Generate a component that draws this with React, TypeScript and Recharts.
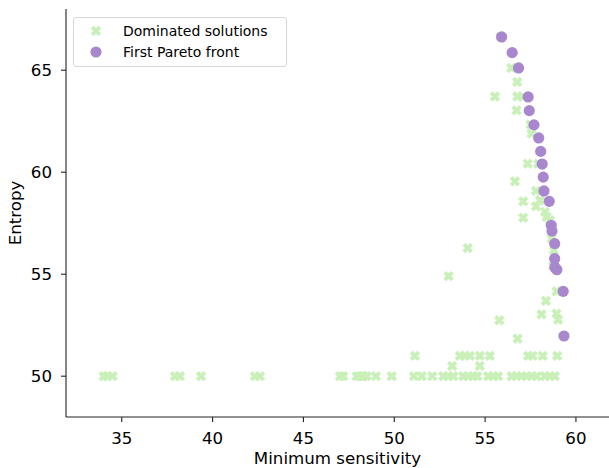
import React from 'react';
import { ScatterChart, Scatter, XAxis, YAxis } from 'recharts';

// values
const dominatedX = [
  55.85, 56.45, 56.77, 55.54, 56.77, 57.1, 56.73, 57.5, 57.56, 57.34, 57.92, 56.64, 57.8, 57.1, 58.02,
  57.8, 58.3, 58.39, 57.1, 58.57, 58.66, 58.79, 58.75, 54.04, 52.99, 58.93, 58.35, 58.11, 58.93, 59.02,
  55.78, 56.79,
  51.14, 53.61, 53.89, 54.16, 54.71, 55.26, 57.37, 57.61, 58.17, 58.97,
  53.19, 54.71,
  34.0, 34.2, 34.5, 37.93, 38.2, 39.36, 42.33, 42.61, 47.01, 47.19, 47.93, 48.1, 48.3, 48.48, 48.99,
  49.86, 51.08, 51.51, 52.09, 52.7, 52.97, 53.25, 53.8, 54.07, 54.35, 54.57, 55.17, 55.45, 55.72,
  56.46, 56.73, 57.01, 57.29, 57.56, 57.84, 58.29, 58.57, 58.84,
];
const dominatedY = [
  66.65, 65.11, 64.42, 63.71, 63.71, 63.7, 63.03, 62.33, 61.89, 60.42, 60.42, 59.55, 59.08, 58.57, 58.62,
  58.33, 58.05, 57.8, 57.77, 57.64, 56.75, 56.17, 55.4, 56.28, 54.9, 54.16, 53.69, 53.03, 53.07, 52.77,
  52.74, 51.84,
  51, 51, 51, 51, 51, 51, 51, 51, 51, 51,
  50.5, 50.5,
  50, 50, 50, 50, 50, 50, 50, 50, 50, 50, 50, 50, 50, 50, 50,
  50, 50, 50, 50, 50, 50, 50, 50, 50, 50, 50, 50, 50, 50,
  50, 50, 50, 50, 50, 50, 50, 50, 50,
];
const paretoX = [
  55.91, 56.49, 56.84, 57.37, 57.43, 57.69, 57.95, 58.06, 58.14, 58.2, 58.24, 58.53, 58.64, 58.68,
  58.83, 58.83, 58.84, 58.95, 59.3, 59.34,
];
const paretoY = [
  66.63, 65.86, 65.11, 63.69, 63.02, 62.32, 61.68, 61.02, 60.4, 59.76, 59.08, 58.57, 57.4, 57.12,
  56.5, 55.76, 55.34, 55.22, 54.16, 51.97,
];
const xTicks = [35, 40, 45, 50, 55, 60];
const yTicks = [50, 55, 60, 65];

const GREEN = '#c9f0b8';
const PURPLE = '#a987cf';
const FONT = '"DejaVu Sans", sans-serif';

const dominated = dominatedX.map((x, i) => ({ x, y: dominatedY[i] }));
const pareto = paretoX.map((x, i) => ({ x, y: paretoY[i] }));

// matplotlib's filled "X" marker
const xPts = [
  [-1, -2], [0, -1], [1, -2], [2, -1], [1, 0], [2, 1],
  [1, 2], [0, 1], [-1, 2], [-2, 1], [-1, 0], [-2, -1],
];
function xPath(cx: number, cy: number, s: number) {
  return xPts.map(([a, b], i) => `${i ? 'L' : 'M'}${cx + (a / 4) * s},${cy + (b / 4) * s}`).join('') + 'Z';
}

const XMarker = (props: any) => {
  const { cx, cy } = props;
  return <path d={xPath(cx, cy, 9.6)} fill={GREEN} stroke={GREEN} strokeWidth={0.8} />;
};

const Dot = (props: any) => {
  const { cx, cy } = props;
  return <circle cx={cx} cy={cy} r={5.6} fill={PURPLE} />;
};

const XTick = (props: any) => {
  const { x, y, payload } = props;
  return (
    <text x={x} y={y + 20} textAnchor="middle" fontSize={16.67} fontFamily={FONT} fill="#000">
      {payload.value}
    </text>
  );
};

const YTick = (props: any) => {
  const { x, y, payload } = props;
  return (
    <text x={x - 7} y={y + 6} textAnchor="end" fontSize={16.67} fontFamily={FONT} fill="#000">
      {payload.value}
    </text>
  );
};

export default function App() {
  return (
    <div style={{ position: 'absolute', left: 0, top: 0, width: 609, height: 468, background: '#fff' }}>
      <ScatterChart width={609} height={468} margin={{ top: 9, right: 0, bottom: 0, left: 0 }}>
        <XAxis
          type="number"
          dataKey="x"
          domain={[31.93, 61.82]}
          ticks={xTicks}
          allowDataOverflow
          height={51}
          tickSize={5}
          tick={<XTick />}
          stroke="#222"
          tickLine={{ stroke: '#222', strokeWidth: 1.1 }}
          axisLine={{ stroke: '#222', strokeWidth: 1.1 }}
        />
        <YAxis
          type="number"
          dataKey="y"
          domain={[48, 68]}
          ticks={yTicks}
          allowDataOverflow
          width={66}
          tickSize={5}
          tick={<YTick />}
          stroke="#222"
          tickLine={{ stroke: '#222', strokeWidth: 1.1 }}
          axisLine={{ stroke: '#222', strokeWidth: 1.1 }}
        />
        <Scatter data={dominated} shape={<XMarker />} isAnimationActive={false} />
        <Scatter data={pareto} shape={<Dot />} isAnimationActive={false} />
        <text x={337.5} y={464} textAnchor="middle" fontSize={16.67} fontFamily={FONT} fill="#000">
          Minimum sensitivity
        </text>
        <text
          x={21}
          y={213}
          textAnchor="middle"
          fontSize={16.67}
          fontFamily={FONT}
          fill="#000"
          transform="rotate(-90 21 213)"
        >
          Entropy
        </text>
      </ScatterChart>
      <div
        style={{
          position: 'absolute',
          left: 73,
          top: 17,
          width: 212,
          height: 48,
          border: '1px solid #d6d6d6',
          borderRadius: 3,
          background: 'rgba(255,255,255,0.8)',
          fontFamily: FONT,
          fontSize: 14,
          color: '#000',
        }}
      >
        <svg width={212} height={48} style={{ position: 'absolute', left: 0, top: 0 }}>
          <path d={xPath(22, 13, 9.6)} fill={GREEN} stroke={GREEN} strokeWidth={0.8} />
          <circle cx={22} cy={34} r={5.6} fill={PURPLE} />
          <text x={49} y={18} fontSize={14} fontFamily={FONT} fill="#000">Dominated solutions</text>
          <text x={49} y={39} fontSize={14} fontFamily={FONT} fill="#000">First Pareto front</text>
        </svg>
      </div>
    </div>
  );
}
